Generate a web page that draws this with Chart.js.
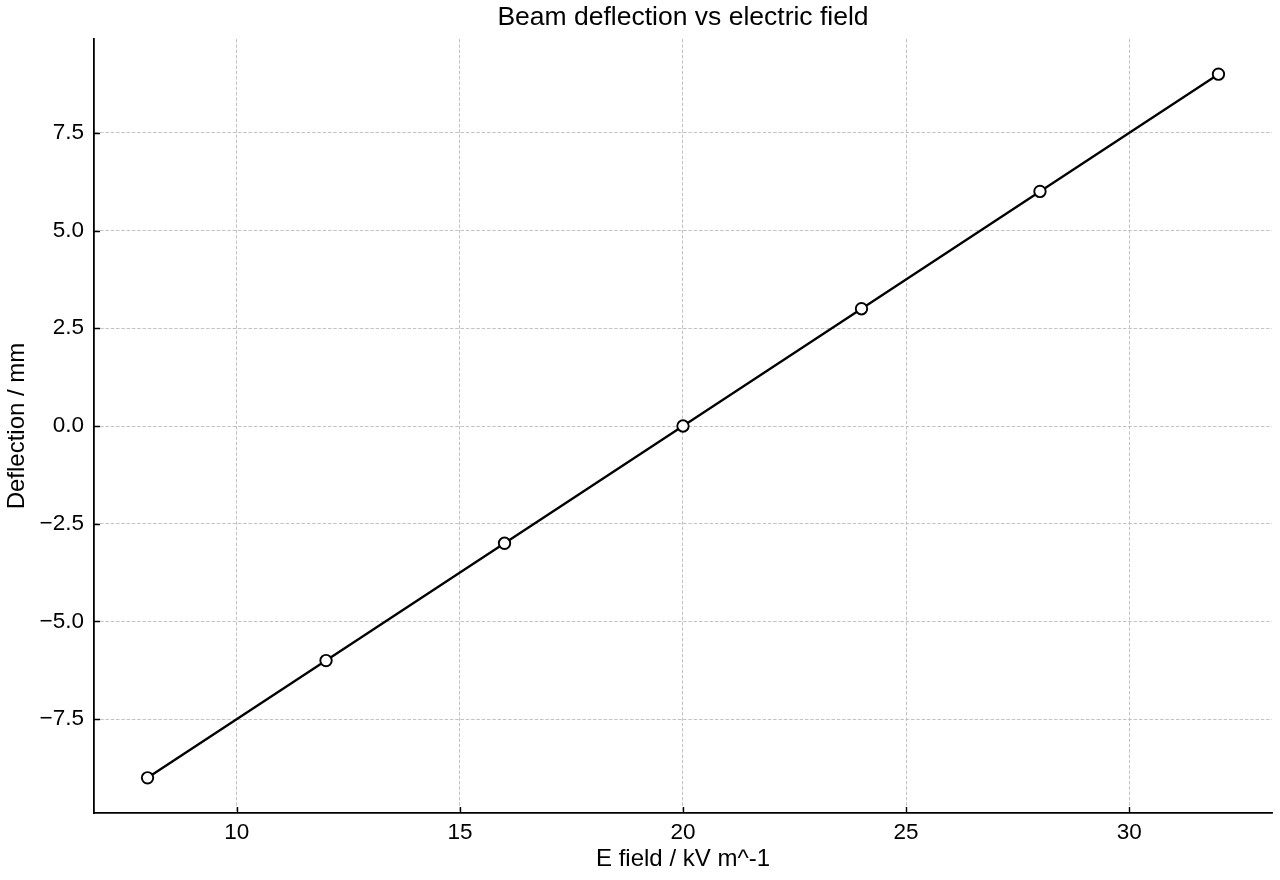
<!DOCTYPE html>
<html>
<head>
<meta charset="utf-8">
<title>Beam deflection vs electric field</title>
<script src="https://cdn.jsdelivr.net/npm/chart.js@4.4.1/dist/chart.umd.min.js"></script>
<style>
  html, body { margin: 0; padding: 0; background: #fff; }
  #wrap { width: 1280px; height: 880px; position: relative; }
</style>
</head>
<body>
<div id="wrap"><canvas id="myChart"></canvas></div>
<script>
// data
const fieldValues = [8, 12, 16, 20, 24, 28, 32];
const deflectionValues = [-9, -6, -3, 0, 3, 6, 9];
const xTickValues = [10, 15, 20, 25, 30];
const yTickValues = [-7.5, -5.0, -2.5, 0.0, 2.5, 5.0, 7.5];
const chartTitle = 'Beam deflection vs electric field';

const points = fieldValues.map((v, i) => ({ x: v, y: deflectionValues[i] }));

const fontFamily = "'Liberation Sans', Arial, Helvetica, sans-serif";

// matplotlib style ticks pointing into the plot, title centred over the axes
const inwardTicks = {
    id: 'inwardTicks',
    afterDraw(chart) {
        const ctx = chart.ctx;
        const area = chart.chartArea;
        const xs = chart.scales.x;
        const ys = chart.scales.y;
        ctx.save();
        ctx.strokeStyle = '#000';
        ctx.lineWidth = 1.4;
        ctx.beginPath();
        xs.ticks.forEach(t => {
            const px = Math.round(xs.getPixelForValue(t.value)) + 0.5;
            ctx.moveTo(px, area.bottom);
            ctx.lineTo(px, area.bottom - 6);
        });
        ys.ticks.forEach(t => {
            const py = Math.round(ys.getPixelForValue(t.value)) + 0.5;
            ctx.moveTo(area.left, py);
            ctx.lineTo(area.left + 6, py);
        });
        ctx.stroke();

        ctx.fillStyle = '#000';
        ctx.font = '26.5px ' + fontFamily;
        ctx.textAlign = 'center';
        ctx.textBaseline = 'middle';
        ctx.fillText(chartTitle, (area.left + area.right) / 2, 18);
        ctx.restore();
    }
};

const ctx = document.getElementById('myChart');

new Chart(ctx, {
    type: 'line',
    data: {
        datasets: [{
            label: 'Deflection',
            data: points,
            borderColor: '#000',
            borderWidth: 2.3,
            pointRadius: 5.7,
            pointHoverRadius: 5.7,
            pointBorderWidth: 1.9,
            pointBackgroundColor: '#fff',
            pointBorderColor: '#000',
            tension: 0,
            fill: false
        }]
    },
    options: {
        responsive: true,
        maintainAspectRatio: false,
        animation: false,
        layout: {
            padding: { left: 0, right: 8, top: 39, bottom: 0 }
        },
        plugins: {
            legend: { display: false },
            tooltip: { enabled: false },
            title: { display: false }
        },
        scales: {
            x: {
                type: 'linear',
                min: 6.8,
                max: 33.2,
                afterBuildTicks: scale => {
                    scale.ticks = xTickValues.map(v => ({ value: v }));
                },
                afterFit: scale => { scale.height = 67; },
                grid: {
                    color: '#b4b4b4',
                    lineWidth: 0.8,
                    drawTicks: false
                },
                border: { display: true, color: '#000', width: 1.8, dash: [3.5, 1.8] },
                ticks: {
                    color: '#000',
                    padding: 6,
                    maxRotation: 0,
                    font: { family: fontFamily, size: 22.5 },
                    callback: v => String(v)
                },
                title: {
                    display: true,
                    text: 'E field / kV m^-1',
                    color: '#000',
                    font: { family: fontFamily, size: 24 },
                    padding: { top: 0, bottom: 6 }
                }
            },
            y: {
                type: 'linear',
                min: -9.9,
                max: 9.9,
                afterBuildTicks: scale => {
                    scale.ticks = yTickValues.map(v => ({ value: v }));
                },
                afterFit: scale => { scale.width = 94; },
                grid: {
                    color: '#b4b4b4',
                    lineWidth: 0.8,
                    drawTicks: false
                },
                border: { display: true, color: '#000', width: 1.8, dash: [3.5, 1.8] },
                ticks: {
                    color: '#000',
                    padding: 10,
                    font: { family: fontFamily, size: 22.5 },
                    callback: v => v.toFixed(1).replace('-', '\u2212')
                },
                title: {
                    display: true,
                    text: 'Deflection / mm',
                    color: '#000',
                    font: { family: fontFamily, size: 24 },
                    padding: { top: 3, bottom: 0 }
                }
            }
        }
    },
    plugins: [inwardTicks]
});
</script>
</body>
</html>
